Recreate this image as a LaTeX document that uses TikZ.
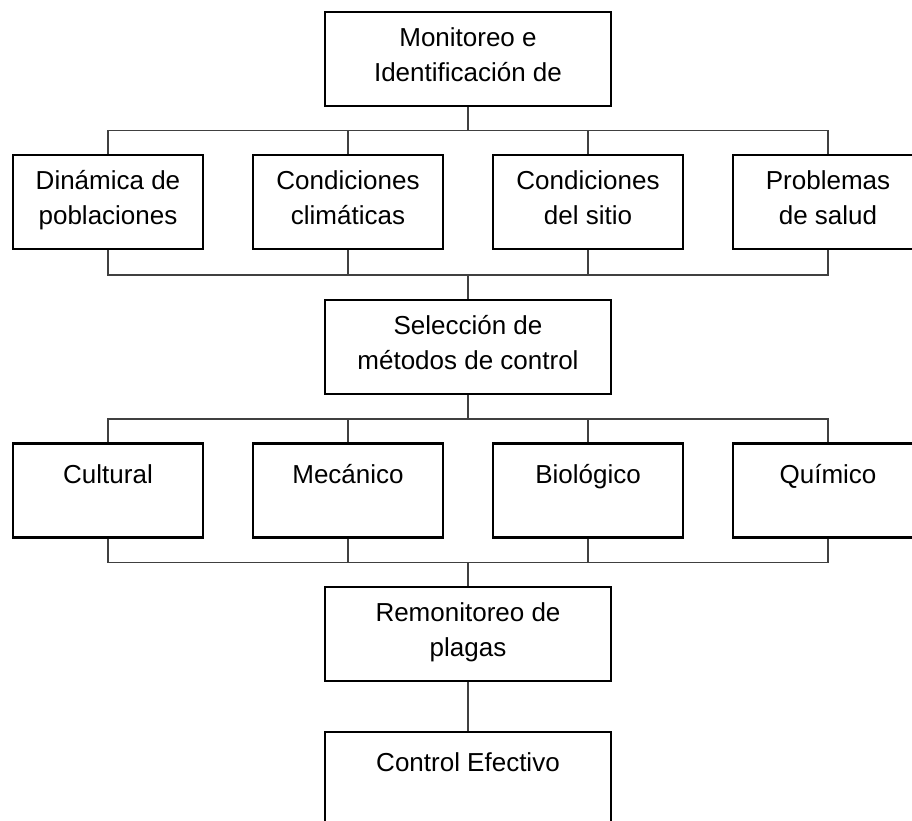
\documentclass[tikz,border=0pt]{standalone}
\usepackage{fontspec}
\setmainfont{Liberation Sans}
\usetikzlibrary{calc}
\begin{document}
\begin{tikzpicture}[x=1pt,y=-1pt,
  box/.style={draw=black,line width=2.3pt,minimum width=190pt,minimum height=94pt,inner sep=0pt},
  widebox/.style={box,minimum width=286.5pt},
  txt/.style={anchor=north,inner sep=0pt,align=center,font=\fontsize{26}{35}\selectfont},
  conn/.style={draw={rgb,255:red,64;green,64;blue,64},line width=1.3pt}]
\clip (0,0) rectangle (912,821);
\fill[white] (0,0) rectangle (912,821);
% boxes
\node[widebox] (top) at (468,59) {};
\node[box] (a1) at (108,202) {};
\node[box] (a2) at (348,202) {};
\node[box] (a3) at (588,202) {};
\node[box] (a4) at (828,202) {};
\node[widebox] (sel) at (468,346.7) {};
\node[box] (b1) at (108,490.5) {};
\node[box] (b2) at (348,490.5) {};
\node[box] (b3) at (588,490.5) {};
\node[box] (b4) at (828,490.5) {};
\node[widebox] (rem) at (468,634.3) {};
\node[widebox] (ctl) at (468,779) {};
% texts
\node[txt] (topt) at ($(top.north)+(0,10.8)$) {\strut Monitoreo e\\\strut Identificación de};
\node[txt] (a1t) at ($(a1.north)+(0,10.8)$) {\strut Dinámica de\\\strut poblaciones};
\node[txt] (a2t) at ($(a2.north)+(0,10.8)$) {\strut Condiciones\\\strut climáticas};
\node[txt] (a3t) at ($(a3.north)+(0,10.8)$) {\strut Condiciones\\\strut del sitio};
\node[txt] (a4t) at ($(a4.north)+(0,10.8)$) {\strut Problemas\\\strut de salud};
\node[txt] (selt) at ($(sel.north)+(0,10.8)$) {\strut Selección de\\\strut métodos de control};
\node[txt] (b1t) at ($(b1.north)+(0,16.3)$) {\strut Cultural};
\node[txt] (b2t) at ($(b2.north)+(0,16.3)$) {\strut Mecánico};
\node[txt] (b3t) at ($(b3.north)+(0,16.3)$) {\strut Biológico};
\node[txt] (b4t) at ($(b4.north)+(0,16.3)$) {\strut Químico};
\node[txt] (remt) at ($(rem.north)+(0,10.8)$) {\strut Remonitoreo de\\\strut plagas};
\node[txt] (ctlt) at ($(ctl.north)+(0,16.3)$) {\strut Control Efectivo};
% junctions
\coordinate (j1) at (468,130.7);
\coordinate (j2) at (468,275);
\coordinate (j3) at (468,419);
\coordinate (j4) at (468,562.7);
% connectors
\draw[conn] (top.south) -- (j1);
\foreach \n in {a1,a2,a3,a4} {\draw[conn] (\n.north) |- (j1);}
\foreach \n in {a1,a2,a3,a4} {\draw[conn] (\n.south) |- (j2);}
\draw[conn] (j2) -- (sel.north);
\draw[conn] (sel.south) -- (j3);
\foreach \n in {b1,b2,b3,b4} {\draw[conn] (\n.north) |- (j3);}
\foreach \n in {b1,b2,b3,b4} {\draw[conn] (\n.south) |- (j4);}
\draw[conn] (j4) -- (rem.north);
\draw[conn] (rem.south) -- (ctl.north);
\end{tikzpicture}
\end{document}
